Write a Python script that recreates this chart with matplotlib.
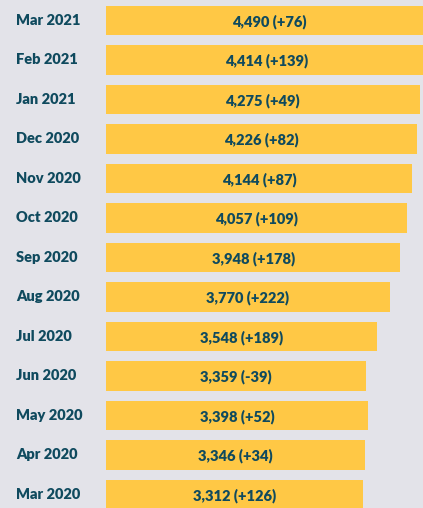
import matplotlib
matplotlib.use("Agg")
import matplotlib.pyplot as plt
from matplotlib.transforms import blended_transform_factory
import numpy as np

months = ["Mar 2021", "Feb 2021", "Jan 2021", "Dec 2020", "Nov 2020", "Oct 2020",
          "Sep 2020", "Aug 2020", "Jul 2020", "Jun 2020", "May 2020", "Apr 2020",
          "Mar 2020"]
totals = [4490, 4414, 4275, 4226, 4144, 4057, 3948, 3770, 3548, 3359, 3398, 3346, 3312]
changes = ["+76", "+139", "+49", "+82", "+87", "+109", "+178", "+222", "+189",
           "-39", "+52", "+34", "+126"]

bg = "#e3e3e9"
bar_col = "#ffc845"
txt = "#0f4a5e"
plt.rcParams["font.family"] = ["Lato", "DejaVu Sans"]

fig = plt.figure(figsize=(4.23, 5.08), dpi=100, facecolor=bg)
ax = fig.add_axes([0, 0, 1, 1], facecolor=bg)

base = -1032  # bars begin here, the value axis is not zero-based
y = np.arange(len(months))
ax.barh(y, np.array(totals) - base, left=base, height=0.74, color=bar_col)

# month names sit in a column left of the bars
lab_tr = blended_transform_factory(fig.transFigure, ax.transData)
for i, (m, v, c) in enumerate(zip(months, totals, changes)):
    ax.text(16 / 423, i, m, transform=lab_tr, ha="left", va="center",
            fontsize=10.5, fontweight="heavy", color=txt)
    ax.text((base + v) / 2, i + 0.03, f"{v:,} ({c})", ha="center", va="center",
            fontsize=10.5, fontweight="heavy", color=txt)

ax.set_xlim(-2826, 4332)
ax.set_ylim(12.342, -0.519)
ax.axis("off")

fig.savefig("out.png", dpi=100, facecolor=bg)
